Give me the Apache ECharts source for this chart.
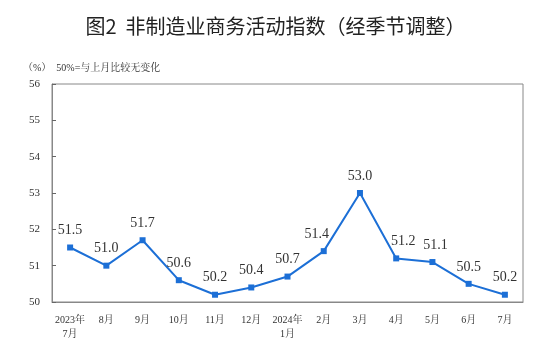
<!DOCTYPE html>
<html><head><meta charset="utf-8">
<script src="https://cdn.jsdelivr.net/npm/echarts@6/dist/echarts.min.js"></script>
<style>html,body{margin:0;padding:0;background:#fff}#c{width:551px;height:358px}</style>
</head><body><div id="c"></div>
<script>
const categories = ["2023年\n7月","8月","9月","10月","11月","12月","2024年\n1月","2月","3月","4月","5月","6月","7月"];
const values = [51.5,51.0,51.7,50.6,50.2,50.4,50.7,51.4,53.0,51.2,51.1,50.5,50.2];
const labelShiftX = [0,0,0,0,0,0,0,-7,0,7,3,0,0];
const yTicks = {min:50, max:56, interval:1};
const titleText = "图2  非制造业商务活动指数（经季节调整）";
const noteText = "（%）  50%=与上月比较无变化";

const chart = echarts.init(document.getElementById('c'));
const serif = '"Liberation Serif","Noto Serif CJK SC","Noto Sans CJK SC",serif';
const seriesData = values.map((v,i)=>({value:v,label:{offset:[labelShiftX[i],0]}}));
chart.setOption({
  animation:false,
  title:[
    {text:titleText,left:'center',top:11,textStyle:{fontFamily:'"Noto Sans CJK SC",sans-serif',fontSize:20,fontWeight:'normal',color:'#222'}},
    {text:noteText,left:18,top:58,textStyle:{fontFamily:serif,fontSize:10,fontWeight:'normal',color:'#333'}}
  ],
  grid:{left:52,right:28,top:84,bottom:56,show:true,borderColor:'#888',borderWidth:1},
  xAxis:{type:'category',data:categories,boundaryGap:true,
    axisLine:{lineStyle:{color:'#888',width:1}},
    axisTick:{inside:true,length:4,lineStyle:{color:'#666'}},
    axisLabel:{fontFamily:serif,fontSize:10,color:'#333',margin:11,lineHeight:14,interval:0}},
  yAxis:{type:'value',min:yTicks.min,max:yTicks.max,interval:yTicks.interval,
    splitLine:{show:false},
    axisLine:{show:true,lineStyle:{color:'#888'}},
    axisTick:{show:true,inside:true,length:4,lineStyle:{color:'#666'}},
    axisLabel:{fontFamily:serif,fontSize:11,color:'#333',margin:12}},
  series:[{type:'line',data:seriesData,symbol:'rect',symbolSize:6,
    lineStyle:{color:'#1c6fd6',width:2},itemStyle:{color:'#1c6fd6'},
    label:{show:true,position:'top',distance:7,fontFamily:serif,fontSize:14,color:'#333',
      formatter:p=>Number(p.value).toFixed(1)}}]
});
</script></body></html>
